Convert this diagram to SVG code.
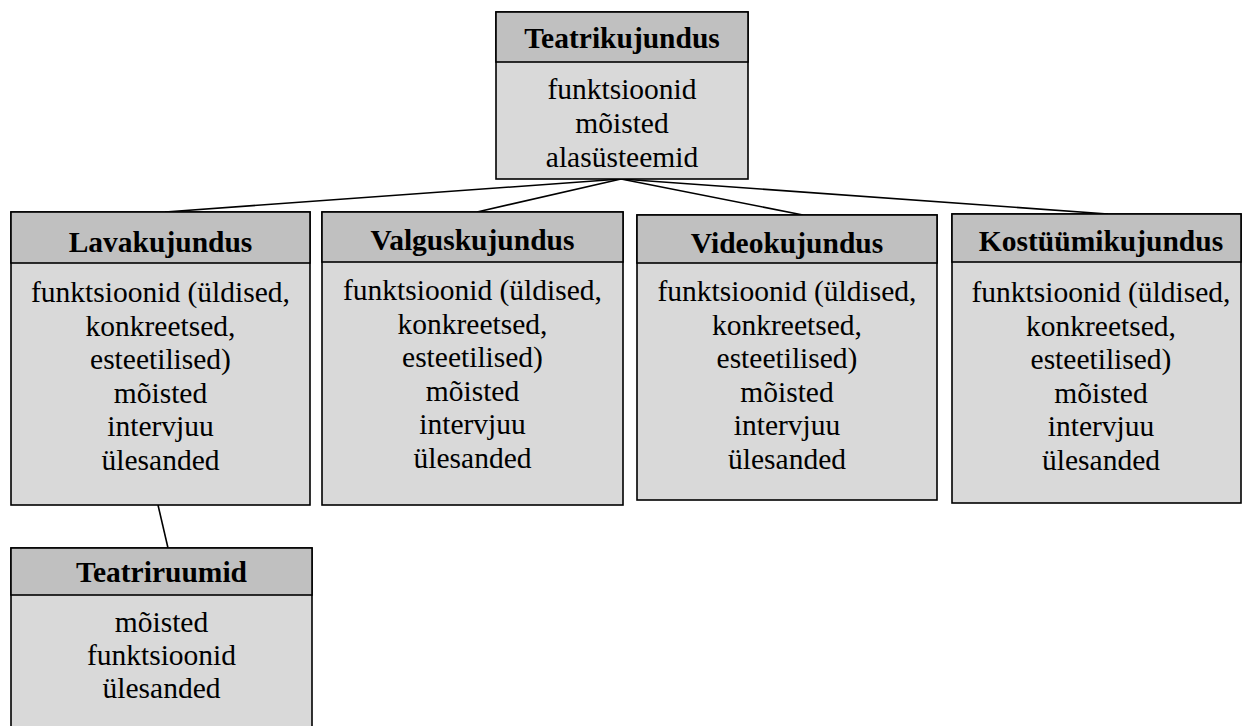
<svg xmlns="http://www.w3.org/2000/svg" width="1242" height="726" viewBox="0 0 1242 726">
<style>
.hd{fill:#c0c0c0;stroke:#000;stroke-width:1.6}
.bd{fill:#d9d9d9;stroke:#000;stroke-width:1.6}
text{font-family:'Liberation Serif','Times New Roman',serif;font-size:29.5px;text-anchor:middle;fill:#000}
.ht{font-weight:bold}
.ln{stroke:#000;stroke-width:1.6;fill:none}
</style>
<rect width="1242" height="726" fill="#fff"/>
<g id="connectors">
<line class="ln" x1="621" y1="179" x2="165" y2="212"/>
<line class="ln" x1="621" y1="179" x2="477" y2="212"/>
<line class="ln" x1="621" y1="179" x2="803" y2="215"/>
<line class="ln" x1="621" y1="179" x2="1108" y2="214"/>
<line class="ln" x1="158" y1="505" x2="168" y2="548"/>
</g>
<g id="teatrikujundus">
<rect class="bd" x="496" y="12" width="252" height="167"/>
<rect class="hd" x="496" y="12" width="252" height="50"/>
<text class="ht" x="622" y="48">Teatrikujundus</text>
<text x="622" y="99">funktsioonid</text>
<text x="622" y="133">mõisted</text>
<text x="622" y="167">alasüsteemid</text>
</g>
<g id="lavakujundus">
<rect class="bd" x="11" y="212" width="299" height="293"/>
<rect class="hd" x="11" y="212" width="299" height="51"/>
<text class="ht" x="160.5" y="252">Lavakujundus</text>
<text x="160.5" y="302">funktsioonid (üldised,</text>
<text x="160.5" y="335.5">konkreetsed,</text>
<text x="160.5" y="369">esteetilised)</text>
<text x="160.5" y="402.5">mõisted</text>
<text x="160.5" y="436">intervjuu</text>
<text x="160.5" y="469.5">ülesanded</text>
</g>
<g id="valguskujundus">
<rect class="bd" x="322" y="212" width="301" height="293"/>
<rect class="hd" x="322" y="212" width="301" height="50"/>
<text class="ht" x="472.5" y="250">Valguskujundus</text>
<text x="472.5" y="300">funktsioonid (üldised,</text>
<text x="472.5" y="333.5">konkreetsed,</text>
<text x="472.5" y="367">esteetilised)</text>
<text x="472.5" y="400.5">mõisted</text>
<text x="472.5" y="434">intervjuu</text>
<text x="472.5" y="467.5">ülesanded</text>
</g>
<g id="videokujundus">
<rect class="bd" x="637" y="215" width="300" height="285"/>
<rect class="hd" x="637" y="215" width="300" height="48"/>
<text class="ht" x="787" y="253">Videokujundus</text>
<text x="787" y="301">funktsioonid (üldised,</text>
<text x="787" y="334.5">konkreetsed,</text>
<text x="787" y="368">esteetilised)</text>
<text x="787" y="401.5">mõisted</text>
<text x="787" y="435">intervjuu</text>
<text x="787" y="468.5">ülesanded</text>
</g>
<g id="kostuumikujundus">
<rect class="bd" x="952" y="214" width="289" height="289"/>
<rect class="hd" x="952" y="214" width="289" height="48"/>
<text class="ht" x="1101" y="251">Kostüümikujundus</text>
<text x="1101" y="302">funktsioonid (üldised,</text>
<text x="1101" y="335.5">konkreetsed,</text>
<text x="1101" y="369">esteetilised)</text>
<text x="1101" y="402.5">mõisted</text>
<text x="1101" y="436">intervjuu</text>
<text x="1101" y="469.5">ülesanded</text>
</g>
<g id="teatriruumid">
<rect class="bd" x="11" y="548" width="301" height="190"/>
<rect class="hd" x="11" y="548" width="301" height="47"/>
<text class="ht" x="161.5" y="582">Teatriruumid</text>
<text x="161.5" y="632">mõisted</text>
<text x="161.5" y="665">funktsioonid</text>
<text x="161.5" y="698">ülesanded</text>
</g>
</svg>
